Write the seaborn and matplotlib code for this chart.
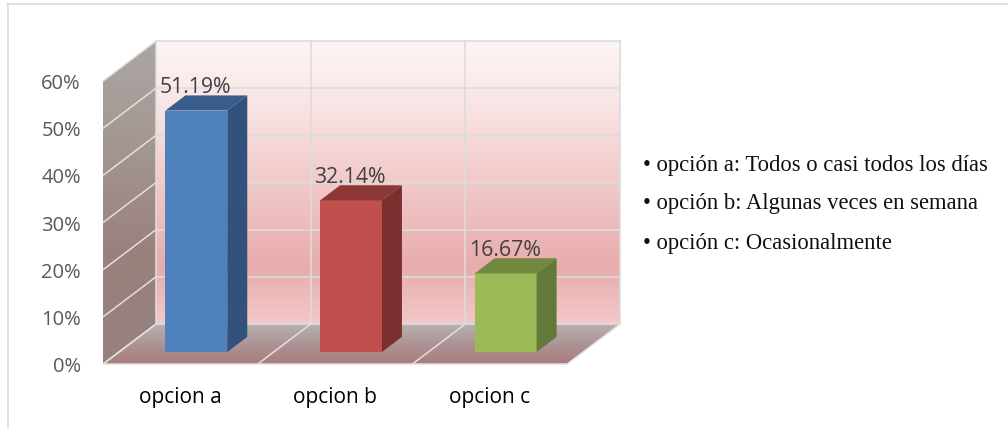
import numpy as np
import pandas as pd
import seaborn as sns
import matplotlib
matplotlib.use("Agg")
import matplotlib.pyplot as plt
from matplotlib.colors import LinearSegmentedColormap
from matplotlib.patches import Polygon
from matplotlib.lines import Line2D

categories = ["opcion a", "opcion b", "opcion c"]
values = [51.19, 32.14, 16.67]
value_labels = ["51.19%", "32.14%", "16.67%"]
y_ticks = [0, 10, 20, 30, 40, 50, 60]
y_tick_labels = ["0%", "10%", "20%", "30%", "40%", "50%", "60%"]
legend_lines = ["• opción a: Todos o casi todos los días",
                "• opción b: Algunas veces en semana",
                "• opción c: Ocasionalmente"]
front_colors = ["#4f81bd", "#c0504d", "#9bbb59"]
top_colors = ["#385d8a", "#8c3836", "#71893f"]
side_colors = ["#32527c", "#7a302e", "#63793a"]

W, H = 1008, 428
sns.set_theme(style="white")
fig = plt.figure(figsize=(W / 100, H / 100), dpi=100, facecolor="white")
# The axes is the plane through the front of the bars
L, R, B, T = 119, 583, 352, 69
ax = fig.add_axes([L / W, 1 - B / H, (R - L) / W, (B - T) / H])
ax.set_xlim(-0.5, 2.5)
ax.set_ylim(0, 60)
ax.axis("off")
xu = (R - L) / 3
yu = (B - T) / 60
# oblique projection, in data units per unit of depth
Z_BACK, Z_FRONT = 1.0, -16 / 37
DX, DY = 37 / xu, 28 / yu
BAR_Z = 20 / 37

def P(x, y, z):
    return (x + z * DX, y + z * DY)

def shade(poly, stops, zorder):
    cmap = LinearSegmentedColormap.from_list("g", stops)
    xs = [p[0] for p in poly]
    ys = [p[1] for p in poly]
    im = ax.imshow(np.linspace(0, 1, 256)[:, None], cmap=cmap, aspect="auto", origin="upper",
                   extent=(min(xs), max(xs), min(ys), max(ys)), zorder=zorder, interpolation="bilinear")
    clip = Polygon(poly, closed=True, transform=ax.transData, fc="none", ec="none", clip_on=False)
    ax.add_patch(clip)
    im.set_clip_box(fig.bbox)
    im.set_clip_path(clip)

x0, x1 = -0.5, 2.5
# back wall
back = [P(x0, 0, Z_BACK), P(x1, 0, Z_BACK), P(x1, 60, Z_BACK), P(x0, 60, Z_BACK)]
shade(back, ["#fdf5f5", "#f9e6e6", "#f4d3d3", "#eec0c0", "#e8acac", "#f3c9c9"], 1)
# left wall
left = [P(x0, 0, Z_FRONT), P(x0, 0, Z_BACK), P(x0, 60, Z_BACK), P(x0, 60, Z_FRONT)]
shade(left, ["#aba7a4", "#a39691", "#9a807d", "#96827f"], 1)
# floor
floor = [P(x0, 0, Z_FRONT), P(x1, 0, Z_FRONT), P(x1, 0, Z_BACK), P(x0, 0, Z_BACK)]
shade(floor, ["#b9b2b3", "#ae9496", "#a87c7e"], 1)

grid = "#dcdcdc"
for t, lab in zip(y_ticks, y_tick_labels):
    a, b, c = P(x0, t, Z_FRONT), P(x0, t, Z_BACK), P(x1, t, Z_BACK)
    ax.plot([a[0], b[0]], [a[1], b[1]], color="#e4e0df", lw=1.1, zorder=2, clip_on=False)
    ax.plot([b[0], c[0]], [b[1], c[1]], color=grid, lw=1.2, zorder=2, clip_on=False)
    ax.text(a[0] - 22 / xu, a[1] - 3 / yu, lab, ha="right", va="center",
            fontsize=14.5, color="#595959", family="Open Sans", clip_on=False)
for x in [x0, x0 + 1, x0 + 2, x1]:
    a, b, c = P(x, 0, Z_FRONT), P(x, 0, Z_BACK), P(x, 60, Z_BACK)
    ax.plot([a[0], b[0]], [a[1], b[1]], color="#e4e0df", lw=1.1, zorder=2, clip_on=False)
    ax.plot([b[0], c[0]], [b[1], c[1]], color=grid, lw=1.2, zorder=2, clip_on=False)
a, b = P(x0, 0, Z_FRONT), P(x1, 0, Z_FRONT)
ax.plot([a[0], b[0]], [a[1], b[1]], color="#e4e0df", lw=1.1, zorder=2, clip_on=False)

# bars, front faces from seaborn
df = pd.DataFrame({"opcion": categories, "valor": values})
sns.barplot(data=df, x="opcion", y="valor", hue="opcion", palette=front_colors, legend=False,
            width=0.4, ax=ax, saturation=1, zorder=3, linewidth=0)
ax.set_xlim(-0.5, 2.5)
ax.set_ylim(0, 60)
ax.axis("off")
half = 0.2
for i, v in enumerate(values):
    top = [P(i - half, v, 0), P(i + half, v, 0), P(i + half, v, BAR_Z), P(i - half, v, BAR_Z)]
    side = [P(i + half, 0, 0), P(i + half, 0, BAR_Z), P(i + half, v, BAR_Z), P(i + half, v, 0)]
    ax.add_patch(Polygon(top, closed=True, fc=top_colors[i], ec="none", zorder=4, clip_on=False))
    ax.add_patch(Polygon(side, closed=True, fc=side_colors[i], ec="none", zorder=4, clip_on=False))
    ax.text(i - 0.005, v + 23 / yu, value_labels[i], ha="center", va="center", fontsize=15.3,
            color="#404040", family="Open Sans", zorder=5, clip_on=False)
    ax.text(P(i, 0, Z_FRONT)[0], -45 / yu, categories[i], ha="center", va="center", fontsize=15,
            color="black", family="Open Sans", clip_on=False)

# legend text
for txt, yp in zip(legend_lines, [165, 204, 243]):
    fig.text(643 / W, 1 - yp / H, txt, ha="left", va="center", fontsize=16.3,
             family="Liberation Serif", color="#111111")

# chart frame
frame = "#d9d9d9"
fig.add_artist(Line2D([7.5 / W, 7.5 / W], [0, 1 - 3.5 / H], color=frame, lw=1.1))
fig.add_artist(Line2D([7 / W, 1], [1 - 3.5 / H, 1 - 3.5 / H], color=frame, lw=1.1))
fig.savefig("out.png", dpi=100, facecolor="white")
